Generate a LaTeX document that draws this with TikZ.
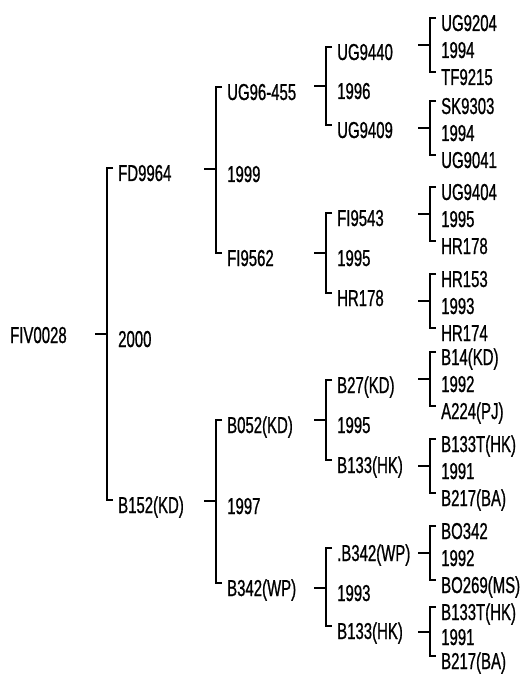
\documentclass[tikz,border=0pt]{standalone}
\usepackage{fontspec}
\setmainfont[FakeStretch=0.65,FakeBold=0.8]{Liberation Sans}
\tikzset{
	rotulo/.style={anchor=west, inner sep=0pt, text height=16pt, text depth=0pt, font=\fontsize{23}{23}\selectfont},
	chave/.style={line width=1.6pt}
}
\begin{document}
\begin{tikzpicture}[x=1pt,y=-1pt]
		% Area do desenho
		\useasboundingbox (0,0) rectangle (520,676);
		
		% Raiz
		\node[rotulo] (fiv) at (10,335) {FIV0028};
		
		% Primeiro nivel
		\node[rotulo] (fd) at (118,173) {FD9964};
		\node[rotulo] (a2000) at (118,339) {2000};
		\node[rotulo] (b152) at (118,505) {B152(KD)};
		
		% Segundo nivel
		\node[rotulo] (ug96) at (227,92) {UG96-455};
		\node[rotulo] (a1999) at (227,174) {1999};
		\node[rotulo] (fi62) at (227,258) {FI9562};
		\node[rotulo] (b052) at (227,425) {B052(KD)};
		\node[rotulo] (a1997) at (227,506) {1997};
		\node[rotulo] (b342) at (227,588) {B342(WP)};
		
		% Terceiro nivel
		\node[rotulo] (ug40) at (337,52) {UG9440};
		\node[rotulo] (a1996) at (337,91) {1996};
		\node[rotulo] (ug09) at (337,130) {UG9409};
		\node[rotulo] (fi43) at (337,218) {FI9543};
		\node[rotulo] (a1995) at (337,258) {1995};
		\node[rotulo] (hr78) at (337,298) {HR178};
		\node[rotulo] (b27) at (337,385) {B27(KD)};
		\node[rotulo] (b1995) at (337,425) {1995};
		\node[rotulo] (b133a) at (337,465) {B133(HK)};
		\node[rotulo] (b342b) at (337,553) {.B342(WP)};
		\node[rotulo] (a1993) at (337,593) {1993};
		\node[rotulo] (b133b) at (337,631) {B133(HK)};
		
		% Ultimo nivel
		\node[rotulo] (g1t) at (441,23) {UG9204};
		\node[rotulo] (g1m) at (441,50) {1994};
		\node[rotulo] (g1b) at (441,77) {TF9215};
		\node[rotulo] (g2t) at (441,106) {SK9303};
		\node[rotulo] (g2m) at (441,133) {1994};
		\node[rotulo] (g2b) at (441,160) {UG9041};
		\node[rotulo] (g3t) at (441,192) {UG9404};
		\node[rotulo] (g3m) at (441,219) {1995};
		\node[rotulo] (g3b) at (441,246) {HR178};
		\node[rotulo] (g4t) at (441,279) {HR153};
		\node[rotulo] (g4m) at (441,306) {1993};
		\node[rotulo] (g4b) at (441,333) {HR174};
		\node[rotulo] (g5t) at (441,357) {B14(KD)};
		\node[rotulo] (g5m) at (441,384) {1992};
		\node[rotulo] (g5b) at (441,411) {A224(PJ)};
		\node[rotulo] (g6t) at (441,444) {B133T(HK)};
		\node[rotulo] (g6m) at (441,471) {1991};
		\node[rotulo] (g6b) at (441,498) {B217(BA)};
		\node[rotulo] (g7t) at (441,531) {BO342};
		\node[rotulo] (g7m) at (441,558) {1992};
		\node[rotulo] (g7b) at (441,585) {BO269(MS)};
		\node[rotulo] (g8t) at (441,612) {B133T(HK)};
		\node[rotulo] (g8m) at (441,637) {1991};
		\node[rotulo] (g8b) at (441,661) {B217(BA)};
		
		% Chaves
		\draw[chave] ([xshift=-5pt,yshift=5pt]fd.west) -- ++(-6pt,0) |- ([xshift=-5pt,yshift=5pt]b152.west);
		\draw[chave] ([xshift=-5pt,yshift=5pt]ug96.west) -- ++(-6pt,0) |- ([xshift=-5pt,yshift=5pt]fi62.west);
		\draw[chave] ([xshift=-5pt,yshift=5pt]b052.west) -- ++(-6pt,0) |- ([xshift=-5pt,yshift=5pt]b342.west);
		\draw[chave] ([xshift=-5pt,yshift=5pt]ug40.west) -- ++(-6pt,0) |- ([xshift=-5pt,yshift=5pt]ug09.west);
		\draw[chave] ([xshift=-5pt,yshift=5pt]fi43.west) -- ++(-6pt,0) |- ([xshift=-5pt,yshift=5pt]hr78.west);
		\draw[chave] ([xshift=-5pt,yshift=5pt]b27.west) -- ++(-6pt,0) |- ([xshift=-5pt,yshift=5pt]b133a.west);
		\draw[chave] ([xshift=-5pt,yshift=5pt]b342b.west) -- ++(-6pt,0) |- ([xshift=-5pt,yshift=5pt]b133b.west);
		\draw[chave] ([xshift=-5pt,yshift=5pt]g1t.west) -- ++(-6pt,0) |- ([xshift=-5pt,yshift=5pt]g1b.west);
		\draw[chave] ([xshift=-5pt,yshift=5pt]g2t.west) -- ++(-6pt,0) |- ([xshift=-5pt,yshift=5pt]g2b.west);
		\draw[chave] ([xshift=-5pt,yshift=5pt]g3t.west) -- ++(-6pt,0) |- ([xshift=-5pt,yshift=5pt]g3b.west);
		\draw[chave] ([xshift=-5pt,yshift=5pt]g4t.west) -- ++(-6pt,0) |- ([xshift=-5pt,yshift=5pt]g4b.west);
		\draw[chave] ([xshift=-5pt,yshift=5pt]g5t.west) -- ++(-6pt,0) |- ([xshift=-5pt,yshift=5pt]g5b.west);
		\draw[chave] ([xshift=-5pt,yshift=5pt]g6t.west) -- ++(-6pt,0) |- ([xshift=-5pt,yshift=5pt]g6b.west);
		\draw[chave] ([xshift=-5pt,yshift=5pt]g7t.west) -- ++(-6pt,0) |- ([xshift=-5pt,yshift=5pt]g7b.west);
		\draw[chave] ([xshift=-5pt,yshift=5pt]g8t.west) -- ++(-6pt,0) |- ([xshift=-5pt,yshift=5pt]g8b.west);
		
		% Tracos de ligacao
		\draw[chave] ([xshift=-23pt,yshift=5pt]a2000.west) -- ([xshift=-11pt,yshift=5pt]a2000.west);
		\draw[chave] ([xshift=-23pt,yshift=5pt]a1999.west) -- ([xshift=-11pt,yshift=5pt]a1999.west);
		\draw[chave] ([xshift=-23pt,yshift=5pt]a1997.west) -- ([xshift=-11pt,yshift=5pt]a1997.west);
		\draw[chave] ([xshift=-23pt,yshift=5pt]a1996.west) -- ([xshift=-11pt,yshift=5pt]a1996.west);
		\draw[chave] ([xshift=-23pt,yshift=5pt]a1995.west) -- ([xshift=-11pt,yshift=5pt]a1995.west);
		\draw[chave] ([xshift=-23pt,yshift=5pt]b1995.west) -- ([xshift=-11pt,yshift=5pt]b1995.west);
		\draw[chave] ([xshift=-23pt,yshift=5pt]a1993.west) -- ([xshift=-11pt,yshift=5pt]a1993.west);
		\draw[chave] ([xshift=-23pt,yshift=5pt]g1m.west) -- ([xshift=-11pt,yshift=5pt]g1m.west);
		\draw[chave] ([xshift=-23pt,yshift=5pt]g2m.west) -- ([xshift=-11pt,yshift=5pt]g2m.west);
		\draw[chave] ([xshift=-23pt,yshift=5pt]g3m.west) -- ([xshift=-11pt,yshift=5pt]g3m.west);
		\draw[chave] ([xshift=-23pt,yshift=5pt]g4m.west) -- ([xshift=-11pt,yshift=5pt]g4m.west);
		\draw[chave] ([xshift=-23pt,yshift=5pt]g5m.west) -- ([xshift=-11pt,yshift=5pt]g5m.west);
		\draw[chave] ([xshift=-23pt,yshift=5pt]g6m.west) -- ([xshift=-11pt,yshift=5pt]g6m.west);
		\draw[chave] ([xshift=-23pt,yshift=5pt]g7m.west) -- ([xshift=-11pt,yshift=5pt]g7m.west);
		\draw[chave] ([xshift=-23pt,yshift=5pt]g8m.west) -- ([xshift=-11pt,yshift=5pt]g8m.west);
		
	\end{tikzpicture}
\end{document}
